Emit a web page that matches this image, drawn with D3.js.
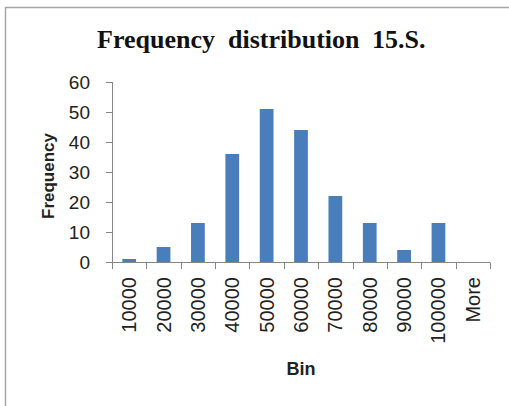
<!DOCTYPE html>
<html>
<head>
<meta charset="utf-8">
<script src="https://cdn.jsdelivr.net/npm/d3@7"></script>
<style>
  body { margin: 0; background: #fff; }
  svg { display: block; }
</style>
</head>
<body>
<svg width="509" height="406"></svg>
<script>
let bins = ['10000', '20000', '30000', '40000', '50000', '60000', '70000', '80000', '90000', '100000', 'More']
let frequency = [1, 5, 13, 36, 51, 44, 22, 13, 4, 13, 0]
let yTicks = [0, 10, 20, 30, 40, 50, 60]
let titleWords = ['Frequency', 'distribution', '15.S.']

let svg = d3.select('svg')

// chart border (only top and left edges are visible in the crop)
svg.append('path')
  .attr('d', 'M5.5,406V7.5H509')
  .attr('fill', 'none')
  .attr('stroke', '#a6a6a6')
  .attr('stroke-width', 1.5)

let x = d3.scaleBand()
  .domain(bins)
  .range([112, 490])
  .paddingInner(0.6)
  .paddingOuter(0.3)

let y = d3.scaleLinear()
  .domain([0, 60])
  .range([262, 82])

let axisColor = '#868686'

// title words are spaced wide apart in the original
let title = svg.append('text')
  .attr('y', 48)
  .style('font-family', '"Liberation Serif", "Times New Roman", serif')
  .style('font-weight', 'bold')
  .style('font-size', '26px')
  .attr('fill', '#111')
let wordX = [97, 228, 372]
title.selectAll('tspan')
  .data(titleWords)
  .enter().append('tspan')
  .attr('x', function (d, i) { return wordX[i] })
  .text(function (d) { return d })

svg.append('g')
  .selectAll('rect')
  .data(frequency)
  .enter().append('rect')
  .attr('x', function (d, i) { return x(bins[i]) })
  .attr('y', function (d) { return y(d) })
  .attr('width', x.bandwidth())
  .attr('height', function (d) { return y(0) - y(d) })
  .attr('fill', '#4a7ebb')

// y axis
let yAxis = svg.append('g')
yAxis.append('line')
  .attr('x1', 112.5).attr('x2', 112.5)
  .attr('y1', y(60)).attr('y2', y(0))
  .attr('stroke', axisColor)
yAxis.selectAll('line.tick')
  .data(yTicks)
  .enter().append('line')
  .attr('class', 'tick')
  .attr('x1', 106).attr('x2', 112.5)
  .attr('y1', function (d) { return Math.round(y(d)) + 0.5 })
  .attr('y2', function (d) { return Math.round(y(d)) + 0.5 })
  .attr('stroke', axisColor)
yAxis.selectAll('text')
  .data(yTicks)
  .enter().append('text')
  .attr('x', 90)
  .attr('y', function (d) { return y(d) })
  .attr('dy', '0.35em')
  .attr('text-anchor', 'end')
  .style('font-family', '"Liberation Sans", Arial, sans-serif')
  .style('font-size', '19px')
  .attr('fill', '#222')
  .text(function (d) { return d })

// x axis
let step = x.step()
let boundaries = d3.range(bins.length + 1).map(function (i) { return 112 + i * step })
let xAxis = svg.append('g')
xAxis.append('line')
  .attr('x1', 112).attr('x2', 490)
  .attr('y1', y(0) + 0.5).attr('y2', y(0) + 0.5)
  .attr('stroke', axisColor)
xAxis.selectAll('line.tick')
  .data(boundaries)
  .enter().append('line')
  .attr('class', 'tick')
  .attr('x1', function (d) { return Math.round(d) + 0.5 })
  .attr('x2', function (d) { return Math.round(d) + 0.5 })
  .attr('y1', y(0) + 0.5).attr('y2', y(0) + 7)
  .attr('stroke', axisColor)
xAxis.selectAll('text')
  .data(bins)
  .enter().append('text')
  .attr('transform', function (d) {
    return 'translate(' + (x(d) + x.bandwidth() / 2) + ',277) rotate(-90)'
  })
  .attr('dy', '0.35em')
  .attr('text-anchor', 'end')
  .style('font-family', '"Liberation Sans", Arial, sans-serif')
  .style('font-size', '20px')
  .attr('fill', '#222')
  .text(function (d) { return d })

svg.append('text')
  .attr('transform', 'translate(54,176) rotate(-90)')
  .attr('text-anchor', 'middle')
  .style('font-family', '"Liberation Sans", Arial, sans-serif')
  .style('font-weight', 'bold')
  .style('font-size', '17px')
  .attr('fill', '#222')
  .text('Frequency')

svg.append('text')
  .attr('x', 301)
  .attr('y', 375)
  .attr('text-anchor', 'middle')
  .style('font-family', '"Liberation Sans", Arial, sans-serif')
  .style('font-weight', 'bold')
  .style('font-size', '18px')
  .attr('fill', '#222')
  .text('Bin')
</script>
</body>
</html>
